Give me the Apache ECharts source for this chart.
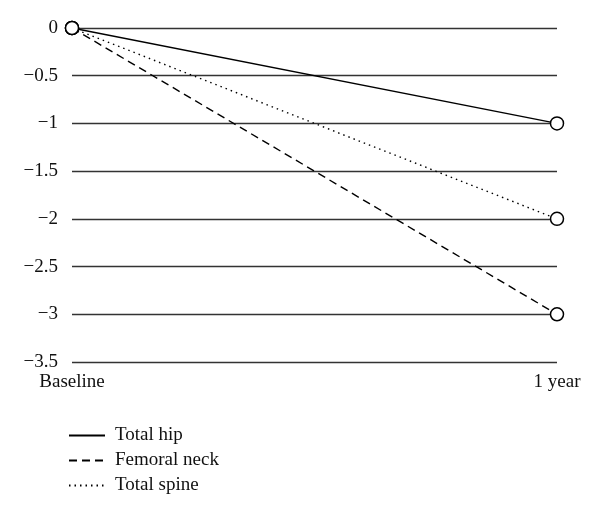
<!DOCTYPE html>
<html>
<head>
<meta charset="utf-8">
<script src="https://cdn.jsdelivr.net/npm/echarts@6/dist/echarts.min.js"></script>
<style>
  html, body { margin: 0; padding: 0; background: #fff; }
  #main { width: 600px; height: 515px; }
</style>
</head>
<body>
<div id="main"></div>
<script>
// categories and values (change from baseline, %)
var categories = ['Baseline', '1 year'];
var totalHip = [0, -1];
var femoralNeck = [0, -3];
var totalSpine = [0, -2];

var chart = echarts.init(document.getElementById('main'));
var font = '"Liberation Serif", "DejaVu Serif", serif';

function makeSeries(name, data, lineType) {
	return {
		name: name,
		type: 'line',
		data: data,
		symbol: 'circle',
		symbolSize: 13,
		itemStyle: { color: '#fff', borderColor: '#000', borderWidth: 1.5 },
		lineStyle: { color: '#000', width: 1.4, type: lineType },
		z: 3
	};
}

chart.setOption({
	animation: false,
	grid: { left: 72, right: 43, top: 28, bottom: 153, containLabel: false },
	legend: {
		orient: 'vertical',
		left: 63,
		top: 421,
		itemWidth: 36,
		itemHeight: 14,
		itemGap: 6,
		itemStyle: { opacity: 0 },
		textStyle: { fontFamily: font, fontSize: 19, color: '#111', padding: [0, 0, 0, 5] },
		data: ['Total hip', 'Femoral neck', 'Total spine']
	},
	xAxis: {
		type: 'category',
		data: categories,
		boundaryGap: false,
		axisLine: { show: false },
		axisTick: { show: false },
		axisLabel: { fontFamily: font, fontSize: 19, color: '#111', margin: 11 }
	},
	yAxis: {
		type: 'value',
		min: -3.5,
		max: 0,
		interval: 0.5,
		axisLabel: {
			fontFamily: font, fontSize: 19, color: '#111', margin: 14,
			formatter: function (v) { return String(v).replace('-', '\u2212'); }
		},
		axisLine: { show: false },
		axisTick: { show: false },
		splitLine: { lineStyle: { color: '#333', width: 1.4 } }
	},
	series: [
		makeSeries('Total hip', totalHip, 'solid'),
		makeSeries('Femoral neck', femoralNeck, [8, 5]),
		makeSeries('Total spine', totalSpine, [1.5, 4])
	]
});
</script>
</body>
</html>
